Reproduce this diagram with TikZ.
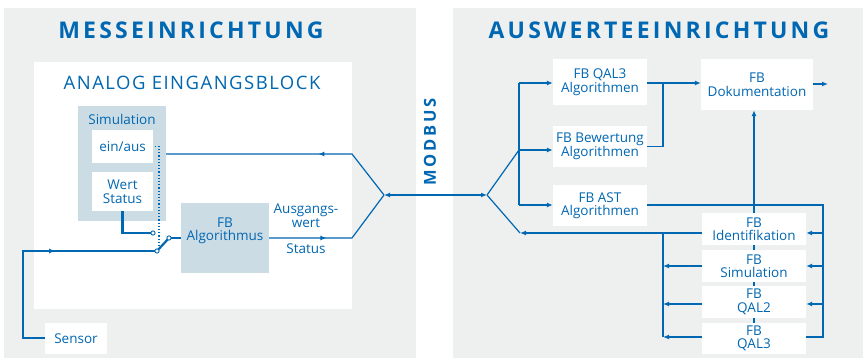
\documentclass[tikz,border=0pt]{standalone}
\usepackage{fontspec}
\setmainfont{Open Sans}
\newfontfamily\titlefont[LetterSpace=14]{Open Sans}
\newfontfamily\modfont[LetterSpace=16]{Open Sans}
\newfontfamily\subfont[LetterSpace=8]{Open Sans}
\usetikzlibrary{arrows.meta,decorations.markings}
\pgfdeclarelayer{back}
\pgfdeclarelayer{under}
\pgfsetlayers{back,under,main}
\definecolor{ehblue}{RGB}{0,103,178}
\definecolor{panelgrey}{RGB}{238,240,240}
\definecolor{fbgrey}{RGB}{204,220,228}
\tikzset{
  conn/.style={draw=ehblue, line width=1.2pt},
  tipend/.style={-{Latex[length=6pt,width=5pt]}},
  midtip/.style={postaction={decorate},decoration={markings,
     mark=at position #1 with {\arrow{Latex[length=6pt,width=5pt]}}}},
  wbox/.style={fill=white, text=ehblue, align=center, inner sep=0pt,
     font=\fontsize{13.5}{13.5}\selectfont},
  gbox/.style={fill=fbgrey, inner sep=0pt},
  lbl/.style={text=ehblue, align=center, inner sep=0pt,
     font=\fontsize{13.5}{13.5}\selectfont},
  contact/.style={circle, draw=ehblue, fill=white, line width=0.9pt,
     minimum size=4.2pt, inner sep=0pt},
}
\begin{document}
\begin{tikzpicture}[x=1pt,y=-1pt]
\useasboundingbox (0,0) rectangle (863,358);
\begin{pgfonlayer}{back}
\fill[white] (0,0) rectangle (863,358);
\fill[panelgrey] (4,8) rectangle (416,358);
\fill[panelgrey] (453,8) rectangle (863,358);
\fill[white] (34,62) rectangle (352,309);
\end{pgfonlayer}
% titles
\node[text=ehblue, font=\titlefont\bfseries\fontsize{23}{24}\selectfont] (t1) at (191,30) {MESSEINRICHTUNG};
\node[text=ehblue, font=\titlefont\bfseries\fontsize{23}{24}\selectfont] (t2) at (659,30) {AUSWERTEEINRICHTUNG};
\node[text=ehblue, font=\subfont\fontsize{18.5}{20}\selectfont] (t3) at (192,83) {ANALOG EINGANGSBLOCK};
\node[text=ehblue, rotate=90, font=\modfont\bfseries\fontsize{16.5}{18}\selectfont] (modbus) at (430,142) {MODBUS};

% left side boxes
\node[gbox, minimum width=88pt, minimum height=115pt] (simbox) at (122,163.5) {};
\node[lbl] (simlbl) at (122,119) {Simulation};
\node[wbox, minimum width=61pt, minimum height=33pt] (einaus) at (122.5,146.5) {ein/aus};
\node[wbox, minimum width=61pt, minimum height=39pt] (wert) at (122.5,191.5) {Wert\\Status};
\node[gbox, minimum width=88pt, minimum height=70pt] (alg) at (225,238) {};
\node[lbl] (alglbl) at (225,231) {FB\\Algorithmus};
\node[wbox, minimum width=62pt, minimum height=31pt] (sensor) at (76,338.5) {Sensor};
\node[lbl] (ausg) at (306,215.5) {Ausgangs-\\wert};
\node[lbl] (status) at (306,249) {Status};

% junctions
\coordinate (J1) at (384,195);
\coordinate (J2) at (487,195);
\coordinate (tl) at (352,154);
\coordinate (bl) at (352,238);

% left connectors
\draw[conn, midtip=0.36] (J1) -- (tl) -- (simbox.east |- tl);
\draw[conn, midtip=0.42] (alg.east |- bl) -- (bl) -- (J1);
\draw[conn, {Latex[length=6pt,width=5pt]}-{Latex[length=6pt,width=5pt]}] (J1) -- (J2);

% switch
\coordinate (c1) at (153,233);
\coordinate (c2) at (157,251);
\coordinate (c3) at (169,238);
\draw[draw=ehblue, line width=2.6pt] (wert.south) -- (wert.south |- c1) -- (c1);
\draw[draw=ehblue, line width=2.2pt] (c2) -- (c3);
\draw[conn] (c3) -- (alg.west |- c3);
\draw[draw=ehblue, line width=1.2pt, dotted] (einaus.east) ++(2,0) -- (159,146.5) -- (159,246);
\coordinate (s1) at (23,338);
\coordinate (s2) at (23,251);
\draw[conn, midtip=0.58] (sensor.west |- s1) -- (s1) -- (s2) -- (c2);
\node[contact] (k1) at (c1) {};
\node[contact] (k2) at (c2) {};
\node[contact] (k3) at (c3) {};

% right side boxes
\node[wbox, minimum width=94pt, minimum height=46pt] (qal3a) at (600,82) {FB QAL3\\Algorithmen};
\node[wbox, minimum width=94pt, minimum height=41pt] (bew) at (600,146.5) {FB Bewertung\\Algorithmen};
\node[wbox, minimum width=94pt, minimum height=41pt] (ast) at (600,205.5) {FB AST\\Algorithmen};
\node[wbox, minimum width=112pt, minimum height=51pt] (dok) at (757,84.5) {FB\\Dokumentation};
\node[wbox, minimum width=104pt, minimum height=32pt] (ident) at (754,229) {FB\\Identifikation};
\node[wbox, minimum width=104pt, minimum height=32pt] (fsim) at (754,266) {FB\\Simulation};
\node[wbox, minimum width=104pt, minimum height=32pt] (qal2) at (754,302) {FB\\QAL2};
\node[wbox, minimum width=104pt, minimum height=31pt] (qal3) at (754,338.5) {FB\\QAL3};

% right connectors
\coordinate (ju) at (519,150);
\coordinate (jd) at (520,233);
\coordinate (b1) at (519,83);
\coordinate (b3) at (519,205);
\draw[conn] (J2) -- (ju);
\draw[conn] (J2) -- (jd);
\draw[conn] (b1) -- (b3);
\draw[conn, tipend] (b1) -- (qal3a.west |- b1);
\draw[conn, tipend] (ju) -- (bew.west |- ju);
\draw[conn, tipend] (b3) -- (ast.west |- b3);
\coordinate (m1) at (663,83);
\draw[conn, tipend] (qal3a.east |- m1) -- (dok.west |- m1);
\draw[conn] (bew.east) -- (m1 |- bew.east) -- (m1);
\coordinate (out) at (828,84);
\draw[conn, tipend] (dok.east |- out) -- (out);
\begin{pgfonlayer}{under}
\draw[conn, tipend] (qal3.north) -- (dok.south -| qal3.north);
\end{pgfonlayer}
% feedback from AST
\coordinate (r1) at (823,205);
\coordinate (r2) at (823,337);
\draw[conn] (ast.east |- r1) -- (r1) -- (r2) -- (qal3.east |- r2);
\coordinate (yi) at (823,233);
\coordinate (ys) at (823,266);
\coordinate (yq) at (823,304);
\draw[conn, tipend] (yi) -- (ident.east |- yi);
\draw[conn, tipend] (ys) -- (fsim.east |- ys);
\draw[conn, tipend] (yq) -- (qal2.east |- yq);
% outputs to left bus
\coordinate (l1) at (663,233);
\coordinate (l4) at (663,337);
\draw[conn, tipend] (ident.west |- l1) -- (jd);
\draw[conn] (l1) -- (l4);
\draw[conn, tipend] (fsim.west |- ys) -- (l1 |- ys);
\draw[conn, tipend] (qal2.west |- yq) -- (l1 |- yq);
\draw[conn, tipend] (qal3.west |- l4) -- (l4);
\end{tikzpicture}
\end{document}
